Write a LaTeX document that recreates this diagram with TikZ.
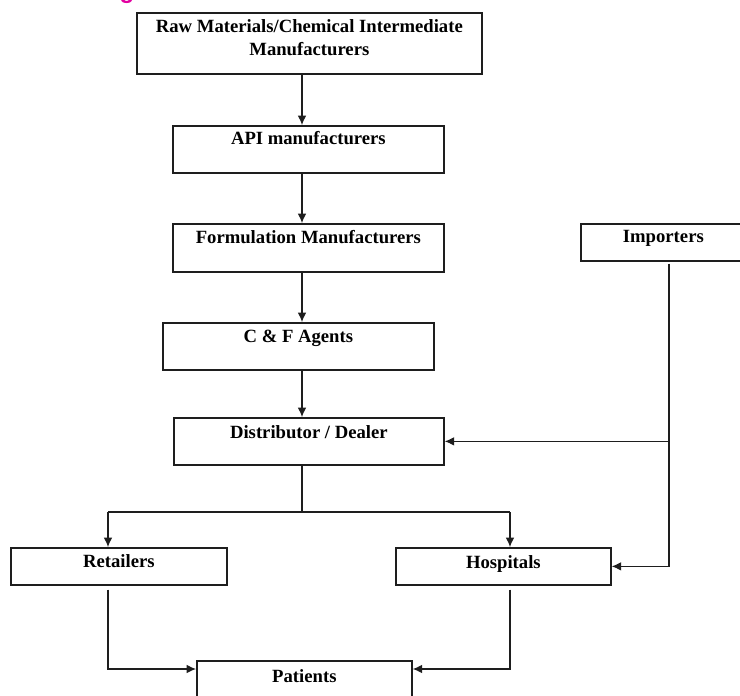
\documentclass[tikz,border=0pt]{standalone}
\usepackage{fontspec}
\setmainfont{Liberation Serif}
\usetikzlibrary{arrows.meta}
\definecolor{inkline}{RGB}{30,30,30}
\definecolor{headpink}{RGB}{226,0,160}
\begin{document}
\begin{tikzpicture}[x=0.75pt, y=-0.75pt,
  box/.style={draw=inkline, line width=1.3pt, rectangle, inner sep=0pt,
    anchor=north west, align=center,
    font=\bfseries\fontsize{14}{17.25}\selectfont},
  arr/.style={draw=inkline, line width=0.9pt,
    -{Latex[length=7pt,width=6.5pt]}},
  plain/.style={draw=inkline, line width=0.9pt}]
\useasboundingbox (0,0) rectangle (740,696);
\clip (0,0) rectangle (740,696);

% fragment of the heading above the chart
\node[anchor=base, inner sep=0pt, text=headpink,
  font=\fontspec{Liberation Sans}\bfseries\fontsize{18}{20}\selectfont]
  (heading) at (127,-2) {g};

% boxes (text height/depth place the baseline inside each box)
\node[box, minimum width=258.75pt, text height=32.25pt, text depth=13.5pt]
  (raw) at (136,12) {Raw Materials/Chemical Intermediate\\Manufacturers};
\node[box, minimum width=203.25pt, text height=14.25pt, text depth=21pt]
  (api) at (172,125) {API manufacturers};
\node[box, minimum width=203.25pt, text height=15pt, text depth=21pt]
  (form) at (172,223) {Formulation Manufacturers};
\node[box, minimum width=203.25pt, text height=15pt, text depth=20.25pt]
  (cf) at (162,322) {C \& F Agents};
\node[box, minimum width=202.5pt, text height=15.75pt, text depth=19.5pt]
  (dist) at (173,417) {Distributor / Dealer};
\node[box, minimum width=123.75pt, text height=14.25pt, text depth=13.5pt]
  (imp) at (580,223) {Importers};
\node[box, minimum width=162pt, text height=15pt, text depth=12.75pt]
  (ret) at (10,547) {Retailers};
\node[box, minimum width=161.25pt, text height=15.75pt, text depth=12pt]
  (hosp) at (395,547) {Hospitals};
\node[box, minimum width=161.25pt, text height=16.5pt, text depth=16.5pt]
  (pat) at (196,660) {Patients};

% routing columns
\coordinate (spine) at (302,0);
\coordinate (split) at (302,512);
\coordinate (rcol) at (108,512);
\coordinate (hcol) at (510,512);
\coordinate (icol) at (669,0);

% main chain
\draw[arr] (raw.south -| spine) -- (api.north -| spine);
\draw[arr] (api.south -| spine) -- (form.north -| spine);
\draw[arr] (form.south -| spine) -- (cf.north -| spine);
\draw[arr] (cf.south -| spine) -- (dist.north -| spine);

% distributor splits to retailers and hospitals
\draw[plain] (dist.south -| spine) -- (split);
\draw[plain] (rcol) -- (hcol);
\draw[arr] (rcol) -- (ret.north -| rcol);
\draw[arr] (hcol) -- (hosp.north -| hcol);

% importers feed distributor and hospitals
\draw[arr] ([yshift=-1.5pt]imp.south -| icol) |- (hosp.east);
\draw[arr] (dist.east -| icol) -- (dist.east);

% retailers and hospitals to patients
\draw[arr] ([yshift=-3pt]ret.south -| rcol) |- ([yshift=-6.75pt]pat.north west);
\draw[arr] ([yshift=-3pt]hosp.south -| hcol) |- ([yshift=-6.75pt]pat.north east);
\end{tikzpicture}
\end{document}
